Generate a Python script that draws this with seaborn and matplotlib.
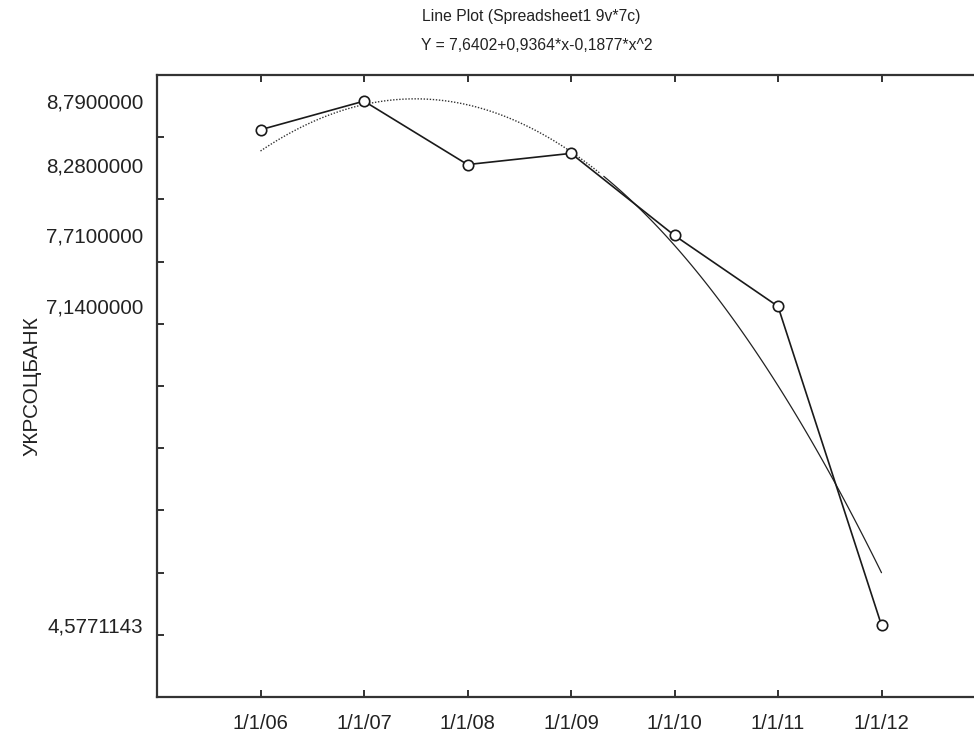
import numpy as np
import pandas as pd
import matplotlib
matplotlib.use("Agg")
import matplotlib.pyplot as plt
import seaborn as sns

# ---- data ----
dates = ["1/1/06", "1/1/07", "1/1/08", "1/1/09", "1/1/10", "1/1/11", "1/1/12"]
positions = [1, 2, 3, 4, 5, 6, 7]
values = [8.56, 8.79, 8.28, 8.37, 7.71, 7.14, 4.5771143]
ytick_values = [8.79, 8.28, 7.71, 7.14, 4.5771143]
ytick_labels = ["8,7900000", "8,2800000", "7,7100000", "7,1400000", "4,5771143"]
minor_yticks = [4.5, 5.0, 5.5, 6.0, 6.5, 7.0, 7.5, 8.0, 8.5]
title1 = "Line Plot (Spreadsheet1 9v*7c)"
title2 = "Y = 7,6402+0,9364*x-0,1877*x^2"
ylabel = "УКРСОЦБАНК"

sns.set_style("white")
plt.rcParams["font.family"] = ["Liberation Sans", "DejaVu Sans"]

df = pd.DataFrame({"x": positions, "y": values})

W, H = 974, 735
fig = plt.figure(figsize=(W / 100, H / 100), dpi=100)
left, right, top, bottom = 157, 985, 75, 697
ax = fig.add_axes([left / W, 1 - bottom / H, (right - left) / W, (bottom - top) / H])

# quadratic fit derived from the data
coef = np.polyfit(df["x"], df["y"], 2)
xs = np.linspace(min(positions), max(positions), 200)
fit = pd.DataFrame({"x": xs, "y": np.polyval(coef, xs)})
upper = fit[fit["x"] <= 4.3]
lower = fit[fit["x"] >= 4.3]
sns.lineplot(data=upper, x="x", y="y", ax=ax, color="#333333", lw=1.0,
             linestyle=(0, (1, 1.2)), estimator=None, sort=False)
sns.lineplot(data=lower, x="x", y="y", ax=ax, color="#222222", lw=0.9,
             estimator=None, sort=False)

sns.lineplot(data=df, x="x", y="y", ax=ax, color="#1a1a1a", lw=1.2,
             marker="o", markersize=7.5, markerfacecolor="white",
             markeredgecolor="#1a1a1a", markeredgewidth=1.2, estimator=None)

ax.set_xlim(0, 8)
ax.set_ylim(4.0, 9.0)
ax.set_xticks(positions)
ax.set_xticklabels(dates, fontsize=14.5)
ax.set_yticks(ytick_values)
ax.set_yticklabels(ytick_labels, fontsize=14.8)
ax.set_yticks(minor_yticks, minor=True)

ax.tick_params(axis="x", which="major", direction="in", length=5, width=1.3,
               top=True, bottom=True, pad=12, colors="#222222")
ax.tick_params(axis="y", which="major", length=0, pad=10, colors="#222222")
ax.tick_params(axis="y", which="minor", direction="in", length=5, width=1.3,
               left=True, colors="#222222")

for s in ["left", "bottom", "top"]:
    ax.spines[s].set_visible(True)
    ax.spines[s].set_color("#333333")
    ax.spines[s].set_linewidth(1.6)
ax.spines["right"].set_visible(False)

ax.set_xlabel("")
ax.set_ylabel(ylabel, fontsize=15, color="#222222", labelpad=0)
ax.yaxis.set_label_coords(-0.14, 0.5)

fig.text(531 / W, 1 - 17 / H, title1, ha="center", va="center", fontsize=11.3, color="#222222")
fig.text(537 / W, 1 - 45 / H, title2, ha="center", va="center", fontsize=11.3, color="#222222")

fig.savefig("out.png", dpi=100)
